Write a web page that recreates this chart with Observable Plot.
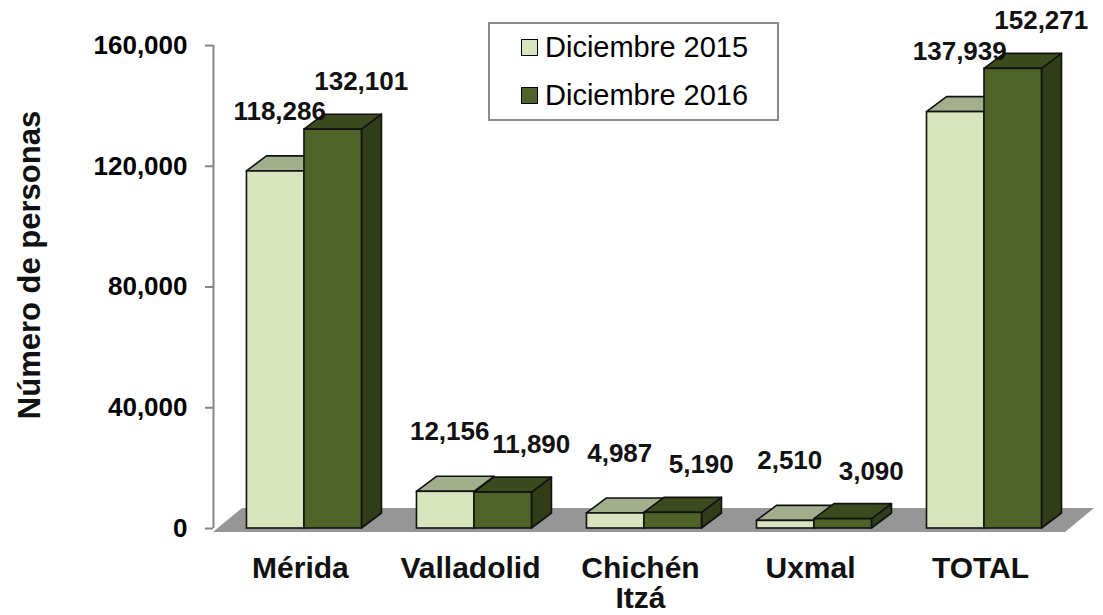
<!DOCTYPE html>
<html><head><meta charset="utf-8">
<script src="https://cdn.jsdelivr.net/npm/d3@7"></script>
<script src="https://cdn.jsdelivr.net/npm/@observablehq/plot@0.6"></script>
<style>
body{margin:0;background:#fff;font-family:"Liberation Sans",Arial,sans-serif}
#wrap{position:relative;width:1103px;height:615px;overflow:hidden;background:#fff}
#chart svg{font-family:"Liberation Sans",Arial,sans-serif;overflow:visible}
#chart g[aria-label="y-axis tick label"] text{font-weight:bold}
#legend{position:absolute;left:488px;top:22px;width:287px;height:95px;border:2px solid #8c8c8c;background:#fff}
.row{position:absolute;left:31px;display:flex;align-items:center;font-size:29px;line-height:32px;color:#000;white-space:nowrap}
.sw{width:17px;height:17px;border:1.5px solid #000;margin-right:7px;box-sizing:border-box}
</style></head><body>
<div id="wrap"><div id="chart"></div><div id="legend"></div></div>
<script>
// ---- data ----
const categories = ["Mérida", "Valladolid", "Chichén\nItzá", "Uxmal", "TOTAL"];
const seriesNames = ["Diciembre 2015", "Diciembre 2016"];
const values2015 = [118286, 12156, 4987, 2510, 137939];
const values2016 = [132101, 11890, 5190, 3090, 152271];
const yTicks = [0, 40000, 80000, 120000, 160000];

// ---- styles / layout ----
const W = 1103, H = 615;
const mTop = 45, mBottom = 87, mLeft = 213, mRight = 34;
const xDomain = [-0.535, 4.5];
const yDomain = [0, 160000];
const pxX = (W - mLeft - mRight) / (xDomain[1] - xDomain[0]);
const pxY = (H - mTop - mBottom) / (yDomain[1] - yDomain[0]);
const BAR = 57.5 / pxX;          // bar width in x units
const DX = 20 / pxX, DY = 15 / pxY; // 3D depth
const FDX = 29 / pxX, FY0 = -4 / pxY, FY1 = 20 / pxY; // floor
const floorX0 = xDomain[0], floorX1 = (1065 - mLeft) / pxX + xDomain[0];

const colors = [
  {front: "#D7E4BD", top: "#A3AE8D", side: "#8E9878"},
  {front: "#4F6228", top: "#3C4B1E", side: "#313D18"}
];
const labelDx = [4, 28];
const labelDy = [-60, -48];
const fmt = d3.format(",");

// ---- build table ----
const bars = [];
[values2015, values2016].forEach((vals, s) => {
  vals.forEach((v, i) => {
    const L = s === 0 ? i - BAR : i;
    bars.push({id: s + "-" + i, s, i, v, L, R: L + BAR});
  });
});
const tops = bars.flatMap(b => [
  {id: b.id, s: b.s, y: b.v, x1: b.L, x2: b.R},
  {id: b.id, s: b.s, y: b.v + DY, x1: b.L + DX, x2: b.R + DX}
]);
const sides = bars.flatMap(b => [
  {id: b.id, s: b.s, x: b.R, y1: 0, y2: b.v},
  {id: b.id, s: b.s, x: b.R + DX, y1: DY, y2: b.v + DY}
]);
const floor = [
  {y: FY0, x1: floorX0, x2: floorX1},
  {y: FY1, x1: floorX0 + FDX, x2: floorX1 + FDX}
];

const stroke = "#111", sw = 1.6;
const marks = [
  Plot.areaX(floor, {y: "y", x1: "x1", x2: "x2", fill: "#969696"}),
  Plot.ruleX([xDomain[0]], {y1: 0, y2: yDomain[1], stroke: "#868686", strokeWidth: 2}),
  Plot.axisY({ticks: yTicks, tickFormat: fmt, tickSize: 8, tickPadding: 18, fontSize: 26, fontWeight: "bold", stroke: "#868686", strokeWidth: 2, color: "#000"})
];
for (const part of ["side", "top", "front"]) {
  for (const s of [0, 1]) {
    const c = colors[s];
    if (part === "side") marks.push(Plot.areaY(sides.filter(d => d.s === s), {x: "x", y1: "y1", y2: "y2", z: "id", fill: c.side, stroke, strokeWidth: sw}));
    if (part === "top") marks.push(Plot.areaX(tops.filter(d => d.s === s), {y: "y", x1: "x1", x2: "x2", z: "id", fill: c.top, stroke, strokeWidth: sw}));
    if (part === "front") marks.push(Plot.rect(bars.filter(d => d.s === s), {x1: "L", x2: "R", y1: 0, y2: "v", fill: c.front, stroke, strokeWidth: sw}));
  }
}
// value labels
for (const s of [0, 1]) {
  marks.push(Plot.text(bars.filter(d => d.s === s), {
    x: d => (d.L + d.R) / 2, y: "v", text: d => fmt(d.v),
    dx: labelDx[s], dy: labelDy[s], fontSize: 26, fontWeight: "bold", fill: "#111"
  }));
}
// category labels
marks.push(Plot.text(categories, {
  x: (d, i) => i, y: () => 0, text: d => d, lineAnchor: "top", lineHeight: 1.0,
  dx: -4, dy: 28, fontSize: 30, fontWeight: "bold", fill: "#111"
}));
// y title
marks.push(Plot.text(["Número de personas"], {
  frameAnchor: "left", textAnchor: "middle", rotate: -90, dx: -183, dy: -22,
  fontSize: 31, fontWeight: "bold", fill: "#111"
}));

const chart = Plot.plot({
  width: W, height: H,
  marginTop: mTop, marginBottom: mBottom, marginLeft: mLeft, marginRight: mRight,
  x: {domain: xDomain, axis: null},
  y: {domain: yDomain},
  style: {fontFamily: "Liberation Sans, Arial, sans-serif", background: "#fff", overflow: "visible"},
  marks
});
document.getElementById("chart").appendChild(chart);

// legend
const legend = document.getElementById("legend");
seriesNames.forEach((name, s) => {
  const row = document.createElement("div");
  row.className = "row";
  row.style.top = (s === 0 ? 7 : 55) + "px";
  const sq = document.createElement("div");
  sq.className = "sw";
  sq.style.background = colors[s].front;
  const t = document.createElement("span");
  t.textContent = name;
  row.appendChild(sq); row.appendChild(t);
  legend.appendChild(row);
});
</script>
</body></html>
